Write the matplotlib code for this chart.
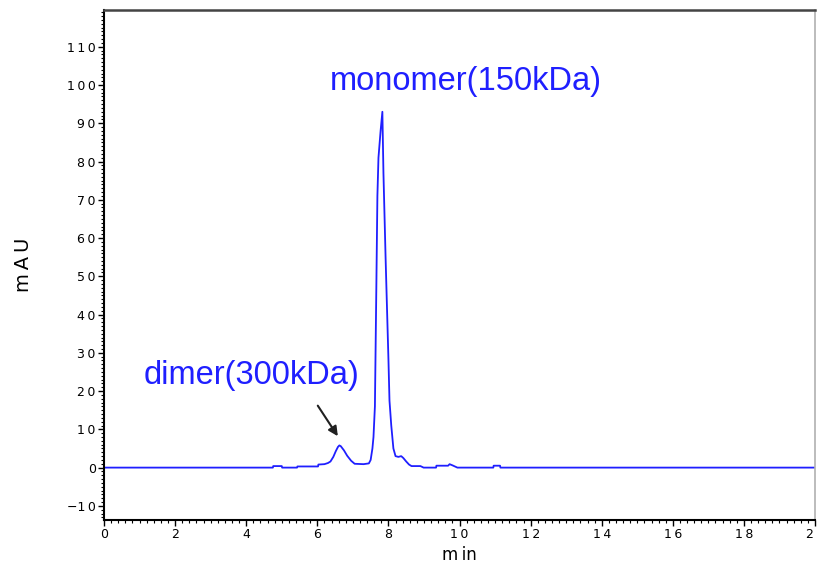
import numpy as np
import matplotlib
matplotlib.use('Agg')
import matplotlib.pyplot as plt
from matplotlib.ticker import MultipleLocator

# ---- chromatogram trace (min, mAU) ----
t_min = [0.0, 4.75, 4.76, 5.0, 5.01, 5.43, 5.44, 6.02, 6.03, 6.2, 6.3, 6.37,
         6.45, 6.52, 6.58, 6.62, 6.66, 6.75, 6.84, 6.95, 7.05, 7.3, 7.45,
         7.5, 7.55, 7.58, 7.62, 7.66, 7.69, 7.72, 7.78, 7.83, 7.86, 7.92,
         7.95, 8.0, 8.03, 8.08, 8.14, 8.2, 8.28, 8.36, 8.42, 8.5, 8.58,
         8.65, 8.9, 8.99, 9.34, 9.35, 9.68, 9.72, 9.8, 9.94, 10.95, 10.96,
         11.14, 11.15, 20.0]
mau = [0.0, 0.0, 0.4, 0.4, 0.0, 0.0, 0.3, 0.3, 0.8, 0.9, 1.2, 1.6,
       2.8, 4.3, 5.4, 5.8, 5.6, 4.5, 3.1, 1.8, 1.0, 0.9, 1.1,
       2.0, 5.0, 8.0, 16.0, 47.0, 71.0, 81.0, 88.0, 93.0, 77.0, 55.0,
       45.0, 28.5, 17.5, 11.0, 5.0, 3.0, 2.8, 3.0, 2.5, 1.6, 0.8,
       0.4, 0.4, 0.0, 0.0, 0.5, 0.5, 0.9, 0.6, 0.0, 0.0, 0.5,
       0.5, 0.0, 0.0]

x_ticks = [0, 2, 4, 6, 8, 10, 12, 14, 16, 18, 20]
x_labels = ['0', '2', '4', '6', '8', '1\u20090', '1\u20092', '1\u20094',
            '1\u20096', '1\u20098', '2\u20090']
y_ticks = [-10, 0, 10, 20, 30, 40, 50, 60, 70, 80, 90, 100, 110]
y_labels = ['\u22121\u20090', '0', '1\u20090', '2\u20090', '3\u20090', '4\u20090',
            '5\u20090', '6\u20090', '7\u20090', '8\u20090', '9\u20090',
            '1\u20090\u20090', '1\u20091\u20090']

blue = '#1f1fff'

fig = plt.figure(figsize=(8.17, 5.65), dpi=100)
ax = fig.add_axes([0.1273, 0.0796, 0.8703, 0.9027])

ax.plot(t_min, mau, color=blue, linewidth=1.3)

ax.set_xlim(0, 20)
ax.set_ylim(-13.7, 119.6)

ax.set_xticks(x_ticks)
ax.set_xticklabels(x_labels, fontsize=9, family='DejaVu Sans')
ax.set_yticks(y_ticks)
ax.set_yticklabels(y_labels, fontsize=9, family='DejaVu Sans')
ax.xaxis.set_minor_locator(MultipleLocator(0.2))
ax.yaxis.set_minor_locator(MultipleLocator(1))
ax.tick_params(which='major', length=4, width=1, pad=2)
ax.tick_params(which='minor', length=2, width=0.8)

for s in ['left', 'bottom']:
    ax.spines[s].set_linewidth(1.5)
    ax.spines[s].set_color('black')
ax.spines['top'].set_linewidth(1.8)
ax.spines['top'].set_color('#444444')
ax.spines['right'].set_linewidth(1.2)
ax.spines['right'].set_color('#b0b0b0')

ax.set_ylabel('m\u2009A\u2009U', fontsize=14, family='DejaVu Sans', labelpad=24)
ax.set_xlabel('m\u2009in', fontsize=12, family='DejaVu Sans', labelpad=3)

ax.text(10.17, 100.8, 'monomer(150kDa)', color=blue, fontsize=23.5,
        family='Liberation Sans', ha='center', va='center')
ax.text(4.14, 24.0, 'dimer(300kDa)', color=blue, fontsize=23.5,
        family='Liberation Sans', ha='center', va='center')
ax.annotate('', xy=(6.62, 7.6), xytext=(5.97, 16.8),
            arrowprops=dict(arrowstyle='-|>', color='#202020', lw=1.5,
                            mutation_scale=14))

plt.savefig('out.png', dpi=100)
